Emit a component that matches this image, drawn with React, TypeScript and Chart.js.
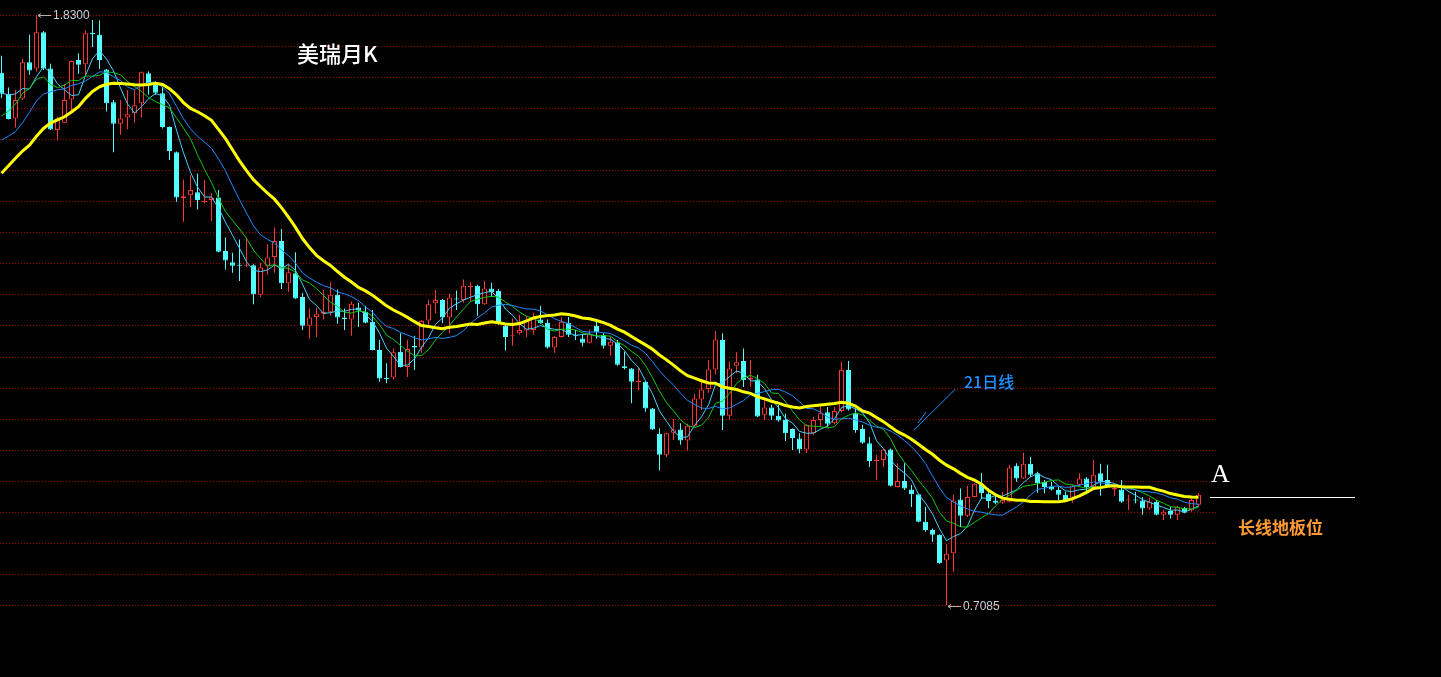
import React, { useEffect, useRef } from 'react';
import { Chart, registerables } from 'chart.js';

Chart.register(...registerables);

// USD/CHF monthly candles (美瑞月K). 20 closes before the first visible candle feed the moving averages.
const priorCloses = [
  1.34, 1.37, 1.45, 1.49, 1.44, 1.42, 1.40, 1.51, 1.54, 1.55,
  1.53, 1.46, 1.52, 1.56, 1.56, 1.58, 1.65, 1.66, 1.69, 1.73,
];

const opens = [
  1.721, 1.681, 1.634, 1.672, 1.741, 1.729, 1.798, 1.729, 1.612, 1.626,
  1.670, 1.745, 1.737, 1.797, 1.793, 1.727, 1.665, 1.624, 1.636, 1.644,
  1.663, 1.720, 1.698, 1.682, 1.618, 1.570, 1.483, 1.488, 1.494, 1.475,
  1.479, 1.484, 1.382, 1.361, 1.356, 1.354, 1.355, 1.299, 1.354, 1.371,
  1.401, 1.321, 1.340, 1.295, 1.240, 1.257, 1.263, 1.267, 1.299, 1.256,
  1.252, 1.275, 1.267, 1.248, 1.194, 1.141, 1.142, 1.191, 1.162, 1.202,
  1.199, 1.250, 1.283, 1.289, 1.256, 1.292, 1.289, 1.314, 1.316, 1.281,
  1.311, 1.306, 1.240, 1.220, 1.226, 1.231, 1.232, 1.252, 1.246, 1.199,
  1.219, 1.246, 1.222, 1.216, 1.208, 1.240, 1.223, 1.202, 1.208, 1.163,
  1.159, 1.133, 1.134, 1.083, 1.035, 0.995, 1.037, 1.043, 1.022, 1.050,
  1.100, 1.120, 1.157, 1.213, 1.069, 1.164, 1.173, 1.138, 1.138, 1.071,
  1.085, 1.069, 1.061, 1.044, 1.026, 1.005, 1.036, 1.061, 1.076, 1.055,
  1.078, 1.156, 1.074, 1.044, 1.017, 0.983, 0.985, 1.005, 0.934, 0.945,
  0.929, 0.920, 0.868, 0.852, 0.843, 0.794, 0.808, 0.910, 0.879, 0.915,
  0.940, 0.921, 0.908, 0.904, 0.906, 0.974, 0.950, 0.978, 0.960, 0.944,
  0.934, 0.928, 0.919, 0.914, 0.938, 0.950, 0.934, 0.960, 0.947, 0.929,
  0.929, 0.908, 0.910, 0.908, 0.893, 0.906, 0.881, 0.888, 0.881, 0.894,
  0.889, 0.900,
];

const highs = [
  1.753, 1.693, 1.688, 1.748, 1.793, 1.830, 1.800, 1.738, 1.637, 1.699,
  1.744, 1.758, 1.801, 1.821, 1.820, 1.728, 1.669, 1.669, 1.688, 1.688,
  1.723, 1.723, 1.704, 1.694, 1.619, 1.571, 1.518, 1.526, 1.529, 1.517,
  1.492, 1.498, 1.408, 1.379, 1.404, 1.408, 1.357, 1.360, 1.395, 1.427,
  1.424, 1.356, 1.380, 1.303, 1.273, 1.275, 1.308, 1.323, 1.309, 1.273,
  1.286, 1.284, 1.278, 1.270, 1.213, 1.169, 1.197, 1.226, 1.213, 1.221,
  1.251, 1.290, 1.308, 1.291, 1.301, 1.307, 1.328, 1.323, 1.318, 1.325,
  1.322, 1.310, 1.242, 1.254, 1.261, 1.259, 1.265, 1.278, 1.252, 1.220,
  1.257, 1.257, 1.232, 1.225, 1.233, 1.251, 1.226, 1.219, 1.213, 1.191,
  1.160, 1.162, 1.135, 1.084, 1.045, 1.037, 1.063, 1.055, 1.054, 1.111,
  1.134, 1.175, 1.230, 1.226, 1.172, 1.190, 1.197, 1.175, 1.147, 1.099,
  1.090, 1.090, 1.073, 1.045, 1.036, 1.053, 1.067, 1.086, 1.086, 1.086,
  1.172, 1.173, 1.083, 1.052, 1.029, 0.995, 1.006, 1.007, 0.979, 0.979,
  0.938, 0.921, 0.896, 0.855, 0.844, 0.825, 0.919, 0.931, 0.936, 0.941,
  0.960, 0.932, 0.921, 0.925, 0.976, 0.979, 0.999, 0.991, 0.963, 0.947,
  0.944, 0.934, 0.925, 0.938, 0.960, 0.953, 0.985, 0.978, 0.976, 0.934,
  0.947, 0.919, 0.925, 0.915, 0.914, 0.909, 0.890, 0.896, 0.898, 0.896,
  0.912, 0.922,
];

const lows = [
  1.673, 1.632, 1.617, 1.669, 1.717, 1.723, 1.726, 1.612, 1.592, 1.626,
  1.647, 1.719, 1.717, 1.770, 1.728, 1.647, 1.570, 1.603, 1.613, 1.626,
  1.636, 1.679, 1.679, 1.615, 1.555, 1.476, 1.438, 1.466, 1.461, 1.473,
  1.439, 1.380, 1.347, 1.341, 1.325, 1.352, 1.281, 1.295, 1.337, 1.341,
  1.310, 1.305, 1.291, 1.232, 1.216, 1.219, 1.252, 1.259, 1.244, 1.232,
  1.221, 1.238, 1.245, 1.193, 1.134, 1.131, 1.138, 1.161, 1.143, 1.156,
  1.188, 1.242, 1.264, 1.245, 1.226, 1.270, 1.284, 1.286, 1.259, 1.280,
  1.295, 1.242, 1.193, 1.202, 1.223, 1.219, 1.223, 1.244, 1.197, 1.189,
  1.218, 1.219, 1.213, 1.201, 1.207, 1.216, 1.197, 1.183, 1.164, 1.157,
  1.093, 1.117, 1.077, 1.042, 0.965, 0.991, 1.023, 1.014, 1.003, 1.049,
  1.080, 1.113, 1.148, 1.042, 1.061, 1.150, 1.124, 1.124, 1.067, 1.061,
  1.061, 1.058, 1.021, 1.004, 0.998, 0.998, 1.033, 1.048, 1.048, 1.053,
  1.076, 1.079, 1.037, 1.016, 0.972, 0.947, 0.972, 0.935, 0.933, 0.928,
  0.896, 0.867, 0.849, 0.830, 0.788, 0.7085, 0.773, 0.858, 0.877, 0.914,
  0.911, 0.894, 0.901, 0.902, 0.905, 0.944, 0.949, 0.953, 0.923, 0.922,
  0.927, 0.909, 0.906, 0.904, 0.934, 0.922, 0.931, 0.917, 0.934, 0.917,
  0.904, 0.890, 0.903, 0.881, 0.890, 0.880, 0.871, 0.874, 0.871, 0.884,
  0.887, 0.897,
];

const closes = [
  1.681, 1.633, 1.669, 1.741, 1.725, 1.798, 1.729, 1.613, 1.634, 1.669,
  1.743, 1.736, 1.796, 1.794, 1.745, 1.663, 1.624, 1.634, 1.642, 1.659,
  1.722, 1.701, 1.683, 1.618, 1.572, 1.484, 1.486, 1.498, 1.479, 1.477,
  1.484, 1.381, 1.364, 1.354, 1.354, 1.356, 1.300, 1.351, 1.370, 1.401,
  1.321, 1.342, 1.292, 1.240, 1.256, 1.263, 1.267, 1.299, 1.256, 1.253,
  1.282, 1.269, 1.246, 1.194, 1.140, 1.139, 1.190, 1.162, 1.196, 1.199,
  1.249, 1.281, 1.289, 1.256, 1.294, 1.290, 1.316, 1.316, 1.281, 1.311,
  1.304, 1.245, 1.219, 1.222, 1.232, 1.250, 1.254, 1.245, 1.199, 1.219,
  1.248, 1.223, 1.220, 1.208, 1.224, 1.228, 1.202, 1.210, 1.166, 1.160,
  1.134, 1.135, 1.083, 1.043, 0.995, 1.036, 1.043, 1.022, 1.050, 1.102,
  1.119, 1.157, 1.214, 1.069, 1.159, 1.171, 1.137, 1.142, 1.068, 1.085,
  1.069, 1.060, 1.036, 1.027, 1.005, 1.052, 1.061, 1.074, 1.054, 1.078,
  1.156, 1.081, 1.042, 1.018, 0.983, 0.985, 1.005, 0.936, 0.945, 0.931,
  0.920, 0.868, 0.852, 0.843, 0.789, 0.807, 0.908, 0.879, 0.915, 0.940,
  0.922, 0.907, 0.904, 0.909, 0.971, 0.950, 0.978, 0.957, 0.941, 0.934,
  0.929, 0.919, 0.909, 0.936, 0.950, 0.934, 0.957, 0.944, 0.935, 0.932,
  0.906, 0.910, 0.908, 0.893, 0.906, 0.881, 0.887, 0.881, 0.896, 0.885,
  0.909, 0.919,
];

const maPeriods = [5, 8, 13, 21];
const maColors = ['#48d2ff', '#10c810', '#1e8cff', '#ffff00'];
const maWidths = [1, 1, 1, 3];

const priceMin = 0.7085;
const priceMax = 1.83;
const gridRows = 19;

const TITLE = '美瑞月K';
const NOTE_MA = '21日线';
const NOTE_A = 'A';
const NOTE_FLOOR = '长线地板位';

const RED = '#ff3434';
const CYAN = '#54ffff';

function movingAverage(period: number): number[] {
  const all = priorCloses.concat(closes);
  const off = priorCloses.length;
  return closes.map((_, i) => {
    let s = 0;
    for (let k = 0; k < period; k++) s += all[off + i - k];
    return s / period;
  });
}

function marker(ctx: CanvasRenderingContext2D, px: number, py: number, text: string) {
  const yy = Math.round(py) + 0.5;
  const x0 = Math.round(px) + 1;
  ctx.strokeStyle = '#b0b0b0';
  ctx.lineWidth = 1;
  ctx.beginPath();
  ctx.moveTo(x0, yy);
  ctx.lineTo(x0 + 13, yy);
  ctx.moveTo(x0, yy);
  ctx.lineTo(x0 + 3, yy - 2);
  ctx.moveTo(x0, yy);
  ctx.lineTo(x0 + 3, yy + 2);
  ctx.stroke();
  ctx.fillStyle = '#c8d0d8';
  ctx.font = '12px "Liberation Sans", Arial, sans-serif';
  ctx.textAlign = 'left';
  ctx.textBaseline = 'middle';
  ctx.fillText(text, x0 + 15, yy + 0.5);
}

const step = (priceMax - priceMin) / gridRows;
const gridLevels = Array.from({ length: gridRows + 1 }, (_, k) => priceMin + k * step);

const dottedGridPlugin = {
  id: 'dottedGrid',
  beforeDatasetsDraw(chart: any) {
    const ctx: CanvasRenderingContext2D = chart.ctx;
    const ys = chart.scales.y;
    const { left, right } = chart.chartArea;
    ctx.save();
    ctx.fillStyle = '#9a0000';
    gridLevels.forEach((v) => {
      const row = Math.floor(ys.getPixelForValue(v));
      for (let x = Math.round(left); x < right; x += 3) ctx.fillRect(x, row, 1, 1);
    });
    ctx.restore();
  },
};

const overlayPlugin = {
  id: 'overlay',
  afterDraw(chart: any) {
    const ctx: CanvasRenderingContext2D = chart.ctx;
    const xs = chart.scales.x;
    const ys = chart.scales.y;
    ctx.save();

    const hiIdx = highs.indexOf(Math.max(...highs));
    const loIdx = lows.indexOf(Math.min(...lows));
    marker(ctx, xs.getPixelForValue(hiIdx), ys.getPixelForValue(highs[hiIdx]), highs[hiIdx].toFixed(4));
    marker(ctx, xs.getPixelForValue(loIdx), ys.getPixelForValue(lows[loIdx]), lows[loIdx].toFixed(4));

    // title
    ctx.fillStyle = '#ffffff';
    ctx.font = '500 22px "Noto Sans CJK SC", sans-serif';
    ctx.textAlign = 'left';
    ctx.textBaseline = 'middle';
    ctx.fillText(TITLE, 297, 54);

    // 21日线 note with pointer
    ctx.fillStyle = '#1e90ff';
    ctx.font = '500 16px "Noto Sans CJK SC", sans-serif';
    ctx.fillText(NOTE_MA, 964, 382);
    ctx.strokeStyle = '#1e90ff';
    ctx.lineWidth = 1;
    ctx.beginPath();
    ctx.moveTo(955, 389.5);
    ctx.lineTo(914, 430);
    ctx.moveTo(926, 412);
    ctx.lineTo(918, 423);
    ctx.stroke();

    // A mark and level line
    ctx.fillStyle = '#ffffff';
    ctx.font = '26px "Liberation Serif", serif';
    ctx.textBaseline = 'alphabetic';
    ctx.fillText(NOTE_A, 1211, 482);
    ctx.strokeStyle = '#ffffff';
    ctx.beginPath();
    ctx.moveTo(1210, 497.5);
    ctx.lineTo(1355, 497.5);
    ctx.stroke();

    ctx.fillStyle = '#ff9a36';
    ctx.font = 'bold 17px "Noto Sans CJK SC", sans-serif';
    ctx.textBaseline = 'middle';
    ctx.fillText(NOTE_FLOOR, 1238, 528);

    ctx.restore();
  },
};

export default function App() {
  const canvasRef = useRef<HTMLCanvasElement | null>(null);

  useEffect(() => {
    const canvas = canvasRef.current;
    if (!canvas) return;
    const idx = closes.map((_, i) => i);
    const up = closes.map((c, i) => c >= opens[i]);

    const maSets = maPeriods.map((p, k) => ({
      type: 'line' as const,
      label: 'MA' + p,
      data: movingAverage(p).map((v, i) => ({ x: i, y: v })),
      borderColor: maColors[k],
      borderWidth: maWidths[k],
      pointRadius: 0,
      tension: 0,
      fill: false,
      order: 4 - k,
    }));

    const xMin = -1.5 / 7;
    const chart = new Chart(canvas, {
      type: 'bar',
      data: {
        datasets: [
          {
            type: 'bar',
            label: 'wick',
            data: idx.map((i) => ({ x: i, y: [lows[i], highs[i]] })) as any,
            backgroundColor: idx.map((i) => (up[i] ? RED : CYAN)),
            borderWidth: 0,
            barThickness: 1,
            grouped: false,
            inflateAmount: 0,
            order: 11,
          } as any,
          {
            type: 'bar',
            label: 'body',
            data: idx.map((i) => ({
              x: i,
              y: [Math.min(opens[i], closes[i]), Math.max(opens[i], closes[i])],
            })) as any,
            backgroundColor: idx.map((i) => (up[i] ? '#000000' : CYAN)),
            borderColor: idx.map((i) => (up[i] ? RED : CYAN)),
            borderWidth: 1,
            borderSkipped: false,
            barThickness: 5,
            grouped: false,
            inflateAmount: 0,
            order: 10,
          } as any,
          ...maSets,
        ],
      },
      options: {
        responsive: false,
        maintainAspectRatio: false,
        animation: false,
        devicePixelRatio: 1,
        events: [],
        layout: { padding: { left: 0, right: 223, top: 15.3, bottom: 71.4 } },
        plugins: { legend: { display: false }, tooltip: { enabled: false } },
        scales: {
          x: {
            type: 'linear',
            min: xMin,
            max: xMin + 1218 / 7,
            offset: false,
            display: false,
          },
          y: {
            type: 'linear',
            min: priceMin,
            max: priceMax,
            display: false,
          },
        },
      } as any,
      plugins: [dottedGridPlugin, overlayPlugin],
    });
    return () => chart.destroy();
  }, []);

  return (
    <div style={{ position: 'fixed', left: 0, top: 0, width: 1441, height: 677, background: '#000' }}>
      <canvas ref={canvasRef} width={1441} height={677} style={{ display: 'block', width: 1441, height: 677 }} />
    </div>
  );
}
